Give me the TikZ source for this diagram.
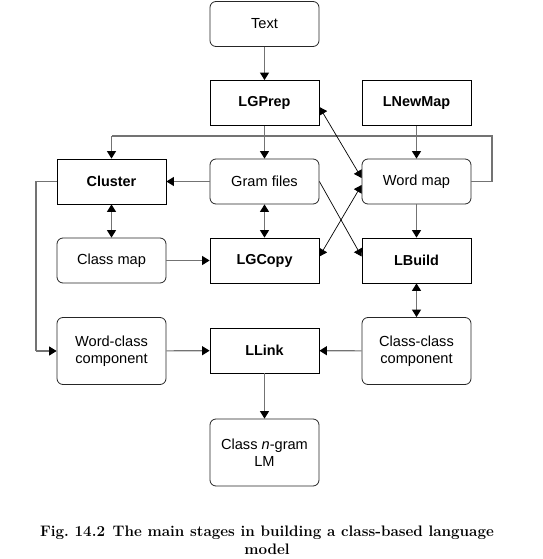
\documentclass[tikz,border=0pt]{standalone}
\usepackage{fontspec}
\newfontfamily\arialf{Liberation Sans}
\usetikzlibrary{arrows.meta,calc}
\tikzset{
  x=1pt, y=-1pt,
  tip/.tip={Triangle[length=7.5pt,width=9pt,color=black]},
  box/.style={draw=black, line width=0.8pt, minimum width=109pt, minimum height=45pt,
    inner sep=2pt, align=center, font=\arialf\fontsize{14.6}{16.5}\selectfont},
  rbox/.style={box, rounded corners=6pt, draw=black!85},
  sbox/.style={box, font=\arialf\bfseries\fontsize{14.4}{16.5}\selectfont},
  tall/.style={minimum height=67pt},
  conn/.style={draw=black!55, line width=1.1pt, -tip},
  dconn/.style={conn, tip-tip},
  plain/.style={draw=black!55, line width=1.1pt},
  diag/.style={draw=black, line width=0.7pt, -tip},
  ddiag/.style={diag, tip-tip},
}
\begin{document}
\begin{tikzpicture}
\useasboundingbox (0,0) rectangle (542,559);
\node[rbox] (text) at (264.5,24) {Text};
\node[sbox] (lgprep) at (264.5,103) {LGPrep};
\node[sbox] (lnewmap) at (416.5,103) {LNewMap};
\node[sbox] (cluster) at (111.5,181.5) {Cluster};
\node[rbox] (gram) at (264.5,181.5) {Gram files};
\node[rbox] (wordmap) at (416.5,181.5) {Word map};
\node[rbox] (classmap) at (111.5,260.5) {Class map};
\node[sbox] (lgcopy) at (264.5,260.5) {LGCopy};
\node[sbox] (lbuild) at (416.5,260.5) {LBuild};
\node[rbox,tall] (wordclass) at (111.5,351) {Word-class\\component};
\node[sbox] (llink) at (264.5,350.5) {LLink};
\node[rbox,tall] (classclass) at (416.5,351) {Class-class\\component};
\node[rbox,tall] (lm) at (264.5,452.5) {Class \textit{n}-gram\\LM};

\node[font=\bfseries\fontsize{15.2}{18}\selectfont, align=center] (cap) at (267,540)
  {Fig.\ 14.2\enspace The main stages in building a class-based language\\model};

\coordinate (loopR) at (492,136);
\coordinate (loopL) at (111.5,136);
\coordinate (leftc) at (36,351);

\draw[conn] (text) -- (lgprep);
\draw[conn] (lgprep) -- (gram);
\draw[conn] (lnewmap) -- (wordmap);
\draw[plain] (wordmap.east) -| (loopR) -- (loopL);
\draw[conn] (loopL) -- (cluster.north);
\draw[conn] (gram) -- (cluster);
\draw[dconn] (cluster) -- (classmap);
\draw[dconn] (gram) -- (lgcopy);
\draw[conn] (wordmap) -- (lbuild);
\draw[conn] (classmap) -- (lgcopy);
\draw[dconn] (lbuild) -- (classclass);
\draw[plain] (cluster.west) -| (leftc);
\draw[conn] (leftc) -- (wordclass.west);
\draw[conn] (wordclass) -- (llink);
\draw[conn] (classclass) -- (llink);
\draw[conn] (llink) -- (lm);
\draw[ddiag] ([yshift=-4pt]lgprep.east) -- ([yshift=3.5pt]wordmap.west);
\draw[diag] (gram.east) -- ([yshift=4pt]lbuild.west);
\draw[ddiag] ([yshift=4pt]lgcopy.east) -- ([yshift=-3.5pt]wordmap.west);
\end{tikzpicture}
\end{document}
